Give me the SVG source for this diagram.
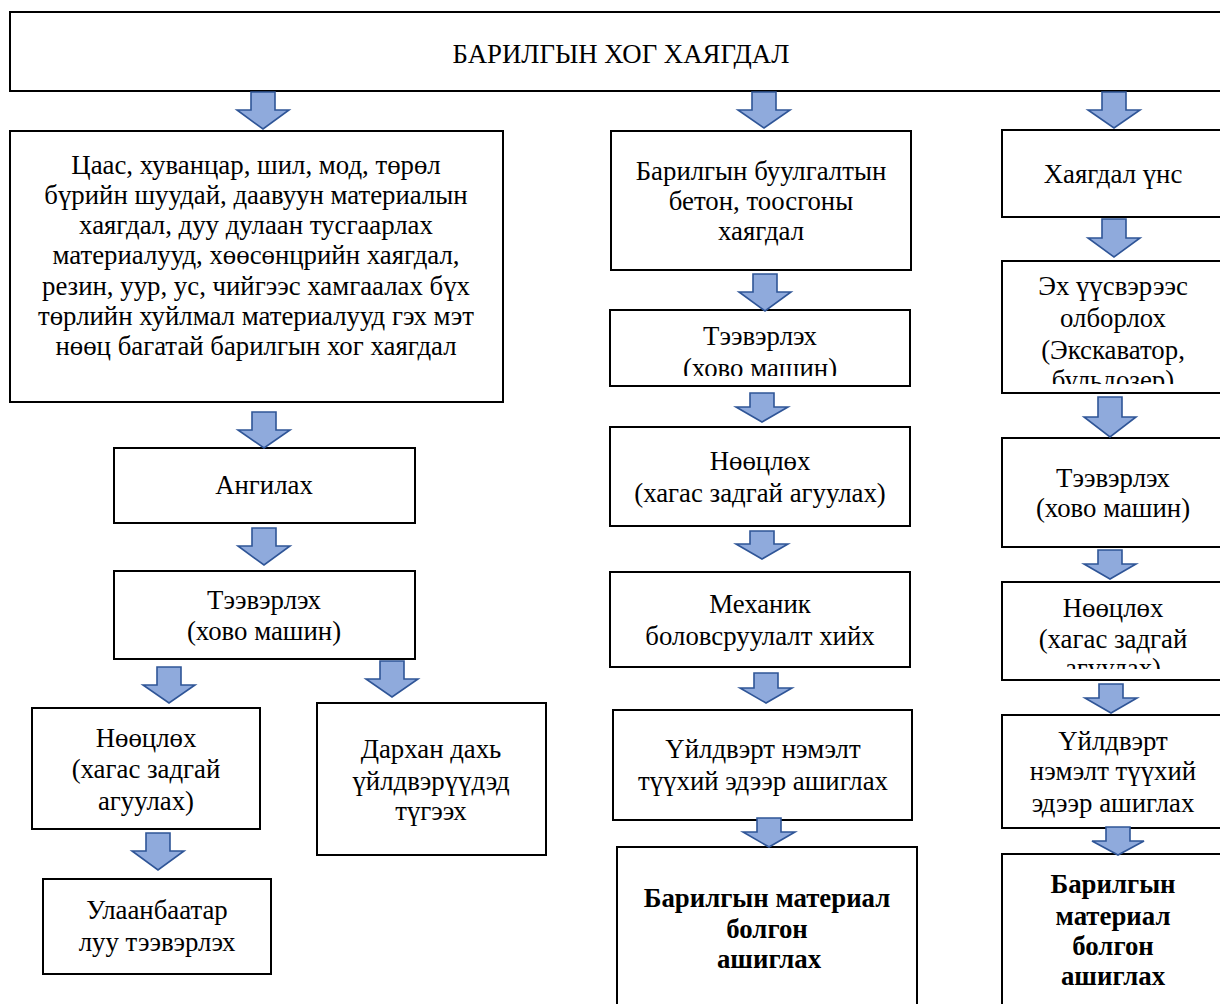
<svg xmlns="http://www.w3.org/2000/svg" width="1220" height="1004" viewBox="0 0 1220 1004">
<style>
.box{fill:#fff;stroke:#000;stroke-width:2}
.t{font-family:"Liberation Serif","Times New Roman","DejaVu Serif",serif;font-size:26.8px;fill:#000;text-anchor:middle}
.b{font-weight:bold}
.arr{fill:#8faadc;stroke:#2f5597;stroke-width:1.6;stroke-linejoin:miter}
</style>
<defs>
<clipPath id="c1"><rect x="611" y="311" width="298" height="65"/></clipPath>
<clipPath id="c2"><rect x="1003" y="262" width="217" height="122"/></clipPath>
<clipPath id="c3"><rect x="1003" y="583" width="217" height="86"/></clipPath>
</defs>
<rect width="1220" height="1004" fill="#fff"/>

<g id="n-title"><rect class="box" x="10" y="12" width="1235" height="79"/><text class="t" x="621" y="63">БАРИЛГЫН ХОГ ХАЯГДАЛ</text></g>

<g id="n-l1"><rect class="box" x="10" y="131" width="493" height="271"/>
<text class="t" x="256"><tspan x="256" y="174">Цаас, хуванцар, шил, мод, төрөл</tspan><tspan x="256" y="204">бүрийн шуудай, даавуун материалын</tspan><tspan x="256" y="234">хаягдал, дуу дулаан тусгаарлах</tspan><tspan x="256" y="264">материалууд, хөөсөнцрийн хаягдал,</tspan><tspan x="256" y="295">резин, уур, ус, чийгээс хамгаалах бүх</tspan><tspan x="256" y="325">төрлийн хуйлмал материалууд гэх мэт</tspan><tspan x="256" y="355">нөөц багатай барилгын хог хаягдал</tspan></text></g>
<g id="n-l2"><rect class="box" x="114" y="448" width="301" height="75"/><text class="t" x="264" y="494">Ангилах</text></g>
<g id="n-l3"><rect class="box" x="114" y="571" width="301" height="88"/><text class="t"><tspan x="264" y="609">Тээвэрлэх</tspan><tspan x="264" y="640">(хово машин)</tspan></text></g>
<g id="n-l4"><rect class="box" x="32" y="708" width="228" height="121"/><text class="t"><tspan x="146" y="747">Нөөцлөх</tspan><tspan x="146" y="778">(хагас задгай</tspan><tspan x="146" y="810">агуулах)</tspan></text></g>
<g id="n-l5"><rect class="box" x="43" y="879" width="228" height="95"/><text class="t"><tspan x="157" y="919">Улаанбаатар</tspan><tspan x="157" y="951">луу тээвэрлэх</tspan></text></g>
<g id="n-l6"><rect class="box" x="317" y="703" width="229" height="152"/><text class="t"><tspan x="431" y="758">Дархан дахь</tspan><tspan x="431" y="790">үйлдвэрүүдэд</tspan><tspan x="431" y="820">түгээх</tspan></text></g>

<g id="n-m1"><rect class="box" x="611" y="131" width="300" height="139"/><text class="t"><tspan x="761" y="180">Барилгын буулгалтын</tspan><tspan x="761" y="210">бетон, тоосгоны</tspan><tspan x="761" y="240">хаягдал</tspan></text></g>
<g id="n-m2"><rect class="box" x="610" y="310" width="300" height="76"/><text class="t" clip-path="url(#c1)"><tspan x="760" y="345">Тээвэрлэх</tspan><tspan x="760" y="377">(хово машин)</tspan></text></g>
<g id="n-m3"><rect class="box" x="610" y="427" width="300" height="99"/><text class="t"><tspan x="760" y="470">Нөөцлөх</tspan><tspan x="760" y="502">(хагас задгай агуулах)</tspan></text></g>
<g id="n-m4"><rect class="box" x="610" y="572" width="300" height="95"/><text class="t"><tspan x="760" y="613">Механик</tspan><tspan x="760" y="645">боловсруулалт хийх</tspan></text></g>
<g id="n-m5"><rect class="box" x="613" y="710" width="299" height="110"/><text class="t"><tspan x="763" y="758">Үйлдвэрт нэмэлт</tspan><tspan x="763" y="790">түүхий эдээр ашиглах</tspan></text></g>
<g id="n-m6"><rect class="box" x="617" y="847" width="300" height="170"/><text class="t b"><tspan x="767" y="907">Барилгын материал</tspan><tspan x="767" y="938">болгон</tspan><tspan x="769" y="968">ашиглах</tspan></text></g>

<g id="n-r1"><rect class="box" x="1002" y="130" width="225" height="87"/><text class="t" x="1113" y="183">Хаягдал үнс</text></g>
<g id="n-r2"><rect class="box" x="1002" y="261" width="225" height="132"/><text class="t" clip-path="url(#c2)"><tspan x="1113" y="295">Эх үүсвэрээс</tspan><tspan x="1113" y="327">олборлох</tspan><tspan x="1113" y="359">(Экскаватор,</tspan><tspan x="1113" y="389">бульдозер)</tspan></text></g>
<g id="n-r3"><rect class="box" x="1002" y="438" width="225" height="109"/><text class="t"><tspan x="1113" y="487">Тээвэрлэх</tspan><tspan x="1113" y="517">(хово машин)</tspan></text></g>
<g id="n-r4"><rect class="box" x="1002" y="582" width="225" height="98"/><text class="t" clip-path="url(#c3)"><tspan x="1113" y="617">Нөөцлөх</tspan><tspan x="1113" y="648">(хагас задгай</tspan><tspan x="1113" y="677">агуулах)</tspan></text></g>
<g id="n-r5"><rect class="box" x="1002" y="715" width="225" height="113"/><text class="t"><tspan x="1113" y="750">Үйлдвэрт</tspan><tspan x="1113" y="780">нэмэлт түүхий</tspan><tspan x="1113" y="812">эдээр ашиглах</tspan></text></g>
<g id="n-r6"><rect class="box" x="1002" y="854" width="225" height="165"/><text class="t b"><tspan x="1113" y="893">Барилгын</tspan><tspan x="1113" y="925">материал</tspan><tspan x="1113" y="955">болгон</tspan><tspan x="1113" y="985">ашиглах</tspan></text></g>

<g id="connectors">
<path class="arr" d="M251,92 H275 V110 H289 L263,129 L237,110 H251 Z"/>
<path class="arr" d="M252,412 H276 V430 H290 L264,448 L238,430 H252 Z"/>
<path class="arr" d="M252,528 H276 V546 H290 L264,565 L238,546 H252 Z"/>
<path class="arr" d="M157,667 H181 V685 H195 L169,703 L143,685 H157 Z"/>
<path class="arr" d="M380,661 H404 V679 H418 L392,697 L366,679 H380 Z"/>
<path class="arr" d="M146,833 H170 V851 H184 L158,870 L132,851 H146 Z"/>
<path class="arr" d="M752,92 H776 V110 H790 L764,128 L738,110 H752 Z"/>
<path class="arr" d="M753,274 H777 V292 H791 L765,311 L739,292 H753 Z"/>
<path class="arr" d="M750,393 H774 V407 H788 L762,422 L736,407 H750 Z"/>
<path class="arr" d="M750,531 H774 V544 H788 L762,559 L736,544 H750 Z"/>
<path class="arr" d="M754,673 H778 V688 H792 L766,703 L740,688 H754 Z"/>
<path class="arr" d="M757,818 H781 V832 H795 L769,847 L743,832 H757 Z"/>
<path class="arr" d="M1102,92 H1126 V110 H1140 L1114,128 L1088,110 H1102 Z"/>
<path class="arr" d="M1102,219 H1126 V238 H1140 L1114,257 L1088,238 H1102 Z"/>
<path class="arr" d="M1098,397 H1122 V417 H1136 L1110,437 L1084,417 H1098 Z"/>
<path class="arr" d="M1098,550 H1122 V564 H1136 L1110,579 L1084,564 H1098 Z"/>
<path class="arr" d="M1099,684 H1123 V698 H1137 L1111,713 L1085,698 H1099 Z"/>
<path class="arr" d="M1106,827 H1130 V841 H1144 L1118,855 L1092,841 H1106 Z"/>
</g>
</svg>
